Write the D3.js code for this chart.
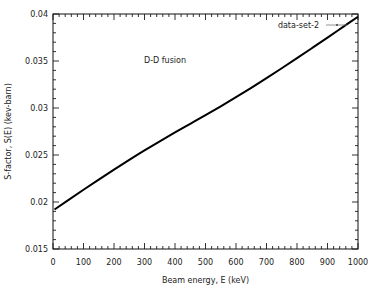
<!DOCTYPE html>
<html>
<head>
<meta charset="utf-8">
<script src="https://cdn.jsdelivr.net/npm/d3@7"></script>
<style>
  body { margin: 0; background: #fff; }
  svg text { font-family: "DejaVu Sans", sans-serif; fill: #222; }
</style>
</head>
<body>
<div id="chart"></div>
<script>
// ── Data ─────────────────────────────────────────────────────
const energy  = [5, 50, 100, 150, 200, 250, 300, 350, 400, 450, 500,
                 550, 600, 650, 700, 750, 800, 850, 900, 950, 1000];
const sFactor = [0.01920, 0.02020, 0.02130, 0.02238, 0.02344, 0.02448, 0.02549,
                 0.02646, 0.02740, 0.02832, 0.02924, 0.03018, 0.03115, 0.03215,
                 0.03318, 0.03423, 0.03530, 0.03639, 0.03749, 0.03860, 0.03971];
const xTicks = [0, 100, 200, 300, 400, 500, 600, 700, 800, 900, 1000];
const yTicks = [0.015, 0.02, 0.025, 0.03, 0.035, 0.04];
const seriesName = 'data-set-2';
const note = 'D-D fusion';

const W = 374, H = 291;
const m = { left: 53, right: 16, top: 14, bottom: 42 };
const iw = W - m.left - m.right, ih = H - m.top - m.bottom;
const FS = 8;

const svg = d3.select('#chart').append('svg')
  .attr('width', W).attr('height', H);

const x = d3.scaleLinear().domain([0, 1000]).range([m.left, m.left + iw]);
const y = d3.scaleLinear().domain([0.015, 0.04]).range([m.top + ih, m.top]);

const g = svg.append('g');

// ── Ticks (inward, mirrored on all sides) ────────────────────
const xMinor = d3.range(0, 1001, 20);
const yMinor = d3.range(15, 41).map(v => v / 1000);
const isMajorX = v => v % 100 === 0;
const isMajorY = v => Math.abs(v * 200 - Math.round(v * 200)) < 1e-6;

xMinor.forEach(v => {
  const len = isMajorX(v) ? 6 : 3;
  g.append('line').attr('x1', x(v)).attr('x2', x(v))
    .attr('y1', m.top + ih).attr('y2', m.top + ih - len);
  g.append('line').attr('x1', x(v)).attr('x2', x(v))
    .attr('y1', m.top).attr('y2', m.top + len);
});
yMinor.forEach(v => {
  const len = isMajorY(v) ? 6 : 3;
  g.append('line').attr('y1', y(v)).attr('y2', y(v))
    .attr('x1', m.left).attr('x2', m.left + len);
  g.append('line').attr('y1', y(v)).attr('y2', y(v))
    .attr('x1', m.left + iw).attr('x2', m.left + iw - len);
});
g.selectAll('line').attr('stroke', '#333').attr('stroke-width', 1);

// frame
svg.append('rect')
  .attr('x', m.left).attr('y', m.top).attr('width', iw).attr('height', ih)
  .attr('fill', 'none').attr('stroke', '#111').attr('stroke-width', 1);

// tick labels
svg.append('g').selectAll('text').data(xTicks).join('text')
  .attr('x', d => x(d)).attr('y', m.top + ih + 16)
  .attr('text-anchor', 'middle').attr('font-size', FS)
  .text(d => d);

svg.append('g').selectAll('text').data(yTicks).join('text')
  .attr('x', m.left - 5).attr('y', d => y(d) + 3)
  .attr('text-anchor', 'end').attr('font-size', FS)
  .text(d => d3.format('~g')(d));

// axis titles
svg.append('text')
  .attr('x', m.left + iw / 2).attr('y', 283)
  .attr('text-anchor', 'middle').attr('font-size', FS)
  .text('Beam energy, E (keV)');

svg.append('text')
  .attr('transform', `translate(11, ${m.top + ih / 2}) rotate(-90)`)
  .attr('text-anchor', 'middle').attr('font-size', FS)
  .text('S-factor, S(E) (kev-barn)');

// ── Curve ────────────────────────────────────────────────────
const pts = energy.map((e, i) => [e, sFactor[i]]);
svg.append('path')
  .datum(pts)
  .attr('fill', 'none')
  .attr('stroke', '#000')
  .attr('stroke-width', 2)
  .attr('d', d3.line().x(d => x(d[0])).y(d => y(d[1])).curve(d3.curveMonotoneX));

// ── Legend & note ────────────────────────────────────────────
svg.append('text')
  .attr('x', 319).attr('y', 28)
  .attr('text-anchor', 'end').attr('font-size', FS)
  .text(seriesName);
svg.append('line')
  .attr('x1', 326).attr('x2', 347).attr('y1', 25).attr('y2', 25)
  .attr('stroke', '#777').attr('stroke-width', 0.8);
svg.append('circle')
  .attr('cx', 337).attr('cy', 25).attr('r', 0.9).attr('fill', '#333');

svg.append('text')
  .attr('x', 144).attr('y', 63)
  .attr('font-size', FS)
  .text(note);
</script>
</body>
</html>
